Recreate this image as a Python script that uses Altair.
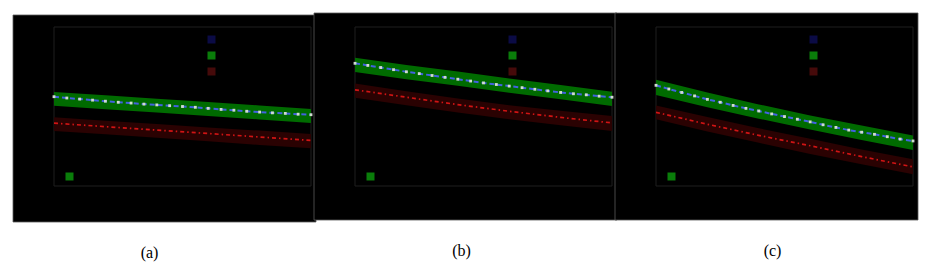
import altair as alt
import pandas as pd

# ---------------- data ----------------
x_dots = list(range(21))
x_coarse = [0, 4, 8, 12, 16, 20]

# panel (a)
a_blue = [3.37, 3.32, 3.28, 3.24, 3.20, 3.16, 3.13, 3.09, 3.06, 3.03, 3.00,
          2.97, 2.93, 2.89, 2.86, 2.82, 2.79, 2.76, 2.74, 2.71, 2.69]
a_green_hi = [3.55, 3.42, 3.29, 3.17, 3.04, 2.91]
a_green_lo = [3.03, 2.90, 2.77, 2.64, 2.51, 2.38]
a_red = [2.37, 2.24, 2.11, 1.98, 1.85, 1.72]
a_red_hi = [2.59, 2.46, 2.34, 2.21, 2.09, 1.96]
a_red_lo = [2.08, 1.95, 1.82, 1.69, 1.55, 1.42]

# panel (b)
b_blue = [4.63, 4.55, 4.47, 4.39, 4.31, 4.24, 4.17, 4.10, 4.03, 3.96, 3.89,
          3.83, 3.77, 3.71, 3.65, 3.59, 3.53, 3.48, 3.44, 3.39, 3.35]
b_green_hi = [4.84, 4.57, 4.32, 4.06, 3.81, 3.56]
b_green_lo = [4.30, 4.03, 3.78, 3.52, 3.27, 3.02]
b_red = [3.63, 3.35, 3.07, 2.82, 2.59, 2.38]
b_red_hi = [3.87, 3.58, 3.30, 3.05, 2.84, 2.64]
b_red_lo = [3.33, 3.05, 2.77, 2.52, 2.29, 2.08]

# panel (c)
c_blue = [3.80, 3.66, 3.53, 3.40, 3.27, 3.16, 3.04, 2.93, 2.83, 2.72, 2.62,
          2.52, 2.42, 2.31, 2.21, 2.11, 2.03, 1.95, 1.86, 1.77, 1.70]
c_green_hi = [4.01, 3.53, 3.08, 2.66, 2.28, 1.91]
c_green_lo = [3.43, 2.97, 2.54, 2.13, 1.74, 1.36]
c_red = [2.78, 2.33, 1.91, 1.52, 1.11, 0.72]
c_red_hi = [3.04, 2.60, 2.18, 1.78, 1.38, 1.01]
c_red_lo = [2.52, 2.06, 1.63, 1.21, 0.82, 0.44]

legend_items = ["Mean", "95% band", "Reference"]
legend_colors = ["#0b0b45", "#0a7d0a", "#450a0a"]
data_label = ["Data"]
data_color = ["#0a7d0a"]

panel_labels = ["(a)", "(b)", "(c)"]
label_dx = [-33, -22, -12]

W, H = 257, 159


def panel(blue, g_hi, g_lo, red, r_hi, r_lo, label, dx, top, bottom):
    dots = pd.DataFrame({"x": x_dots, "y": blue})
    coarse = pd.DataFrame({"x": x_coarse, "g_hi": g_hi, "g_lo": g_lo,
                           "red": red, "r_hi": r_hi, "r_lo": r_lo})
    one = pd.DataFrame({"k": [0]})
    xs = alt.Scale(domain=[0, 20], nice=False, zero=False)
    ys = alt.Scale(domain=[0, 6], nice=False, zero=False)

    bg = alt.Chart(one).mark_rect(color="black", stroke="#5a5a5a", strokeWidth=0.8).encode(
        x=alt.value(-41), x2=alt.value(W + 5),
        y=alt.value(top), y2=alt.value(H + bottom))
    frame = alt.Chart(one).mark_rect(fillOpacity=0, stroke="#1e1e1e", strokeWidth=1).encode(
        x=alt.value(0), x2=alt.value(W), y=alt.value(0), y2=alt.value(H))

    xe = alt.X("x:Q", scale=xs, axis=alt.Axis(values=list(range(21)), labels=False,
                                               title=None, domain=False, grid=False,
                                               tickColor="#1c1c1c", tickSize=3, zindex=1))
    xn = alt.X("x:Q", scale=xs, axis=None)

    red_band = alt.Chart(coarse).mark_area(color="#2a0202").encode(
        x=xn, y=alt.Y("r_hi:Q", scale=ys, axis=None), y2="r_lo:Q")
    green_band = alt.Chart(coarse).mark_area(color="#006b00").encode(
        x=xn, y=alt.Y("g_hi:Q", scale=ys, axis=None), y2="g_lo:Q")
    red_line = alt.Chart(coarse).mark_line(color="#d01414", strokeWidth=1.7,
                                           strokeDash=[4, 3, 1.5, 3]).encode(
        x=xn, y=alt.Y("red:Q", scale=ys, axis=None))
    blue_line = alt.Chart(dots).mark_line(color="#4262e0", strokeWidth=2,
                                          strokeDash=[5, 3]).encode(
        x=xn, y=alt.Y("y:Q", scale=ys, axis=None))
    pts = alt.Chart(dots).mark_square(color="#d0dcd0", size=8, opacity=1).encode(
        x=xe, y=alt.Y("y:Q", scale=ys,
                      axis=alt.Axis(values=[1, 3, 5], labels=False, title=None,
                                    domain=False, grid=False, tickColor="#1c1c1c",
                                    tickSize=3, zindex=1)))

    leg1 = alt.Chart(pd.DataFrame({"item": legend_items})).transform_filter(
        "datum.item == 'none'").mark_square(opacity=1).encode(
        color=alt.Color("item:N", scale=alt.Scale(domain=legend_items, range=legend_colors),
                        legend=alt.Legend(orient="none", legendX=152, legendY=7,
                                          title=None, symbolType="square", symbolSize=64,
                                          labelColor="black", labelFontSize=11,
                                          rowPadding=4, padding=0, symbolStrokeWidth=0,
                                          symbolOpacity=1)))
    leg2 = alt.Chart(pd.DataFrame({"obs": data_label})).transform_filter(
        "datum.obs == 'none'").mark_square(opacity=1).encode(
        fill=alt.Fill("obs:N", scale=alt.Scale(domain=data_label, range=data_color),
                      legend=alt.Legend(orient="none", legendX=10, legendY=144,
                                        title=None, symbolType="square", symbolSize=64,
                                        labelColor="black", labelFontSize=11,
                                        padding=0, symbolStrokeWidth=0,
                                        symbolOpacity=1)))

    return alt.layer(bg, frame, red_band, green_band, red_line, blue_line, pts,
                     leg1, leg2).properties(
        width=W, height=H,
        title=alt.TitleParams(text=label, orient="bottom",
                              font="Liberation Serif, Times New Roman, serif",
                              fontSize=16, fontWeight="normal", color="black",
                              offset=23, dx=dx))


pa = panel(a_blue, a_green_hi, a_green_lo, a_red, a_red_hi, a_red_lo,
           panel_labels[0], label_dx[0], -12, 36)
pb = panel(b_blue, b_green_hi, b_green_lo, b_red, b_red_hi, b_red_lo,
           panel_labels[1], label_dx[1], -14, 34)
pc = panel(c_blue, c_green_hi, c_green_lo, c_red, c_red_hi, c_red_lo,
           panel_labels[2], label_dx[2], -14, 34)

chart = alt.hconcat(pa, pb, pc, spacing=44, bounds="flush").resolve_scale(
    color="independent", fill="independent", x="independent", y="independent"
).properties(
    padding={"left": 12, "top": 12, "right": 4, "bottom": 4},
    background="white",
).configure_view(strokeWidth=0)

chart.save("out.html", embed_options={"renderer": "svg", "actions": False})
